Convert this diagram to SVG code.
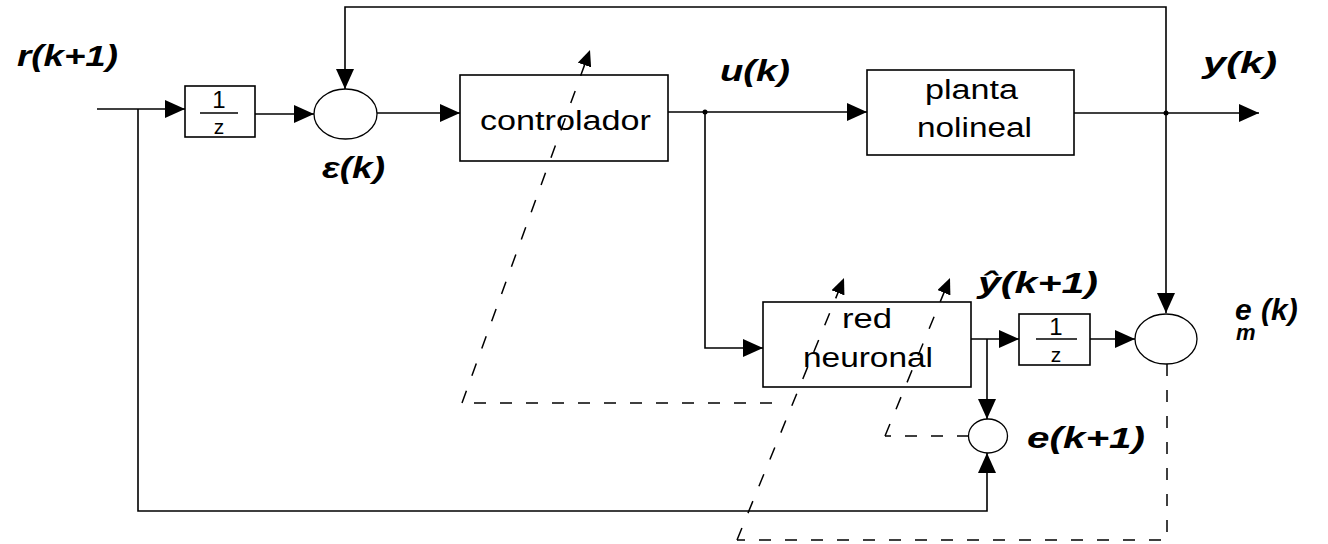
<svg xmlns="http://www.w3.org/2000/svg" width="1328" height="544" viewBox="0 0 1328 544">
<style>
.ln{fill:none;stroke:#000;stroke-width:1.6}
.box{fill:#fff;stroke:#000;stroke-width:1.6}
.sum{fill:#fff;stroke:#000;stroke-width:1.3}
.dh{fill:none;stroke:#000;stroke-width:1.5;stroke-dasharray:12 14}
.dd{fill:none;stroke:#000;stroke-width:1.5;stroke-dasharray:13 16}
.bt{font-family:"Liberation Sans",Arial,sans-serif;font-size:27px;fill:#000}
.fr{font-family:"Liberation Sans",Arial,sans-serif;font-size:24px;fill:#000;text-anchor:middle}
.fz{font-size:21px}
.lb{font-family:"Liberation Sans",Arial,sans-serif;font-size:30px;font-style:italic;font-weight:bold;fill:#000}
</style>
<defs>
<marker id="ah" markerUnits="userSpaceOnUse" markerWidth="20" markerHeight="18" refX="20" refY="9" orient="auto">
<path d="M0,0 L20,9 L0,18 z" fill="#000"/>
</marker>
<marker id="ahs" markerUnits="userSpaceOnUse" markerWidth="16" markerHeight="14" refX="16" refY="7" orient="auto">
<path d="M0,0 L16,7 L0,14 z" fill="#000"/>
</marker>
</defs>
<rect width="1328" height="544" fill="#fff"/>

<g id="delay1">
<rect class="box" x="185" y="86" width="70" height="51"/>
<line class="ln" x1="200" y1="113" x2="238" y2="113"/>
<text class="fr" x="219" y="108">1</text>
<text class="fr fz" x="219" y="134">z</text>
</g>

<g id="sum1">
<ellipse class="sum" cx="345.5" cy="114" rx="31.5" ry="25"/>
</g>

<g id="controller">
<rect class="box" x="460" y="75" width="208" height="86"/>
<text class="bt" x="480" y="130" textLength="171" lengthAdjust="spacingAndGlyphs">controlador</text>
</g>

<g id="plant">
<rect class="box" x="867" y="70" width="207" height="85"/>
<text class="bt" x="925" y="99" textLength="93" lengthAdjust="spacingAndGlyphs">planta</text>
<text class="bt" x="917" y="137" textLength="115" lengthAdjust="spacingAndGlyphs">nolineal</text>
</g>

<g id="neural">
<rect class="box" x="763" y="302" width="208" height="85"/>
<text class="bt" x="842" y="328" textLength="50" lengthAdjust="spacingAndGlyphs">red</text>
<text class="bt" x="803" y="367" textLength="130" lengthAdjust="spacingAndGlyphs">neuronal</text>
</g>

<g id="delay2">
<rect class="box" x="1019" y="314" width="71" height="51"/>
<line class="ln" x1="1036" y1="339" x2="1077" y2="339"/>
<text class="fr" x="1056" y="335">1</text>
<text class="fr fz" x="1056" y="362">z</text>
</g>

<g id="sum_em">
<ellipse class="sum" cx="1166" cy="339" rx="31" ry="25"/>
</g>

<g id="sum_e">
<ellipse class="sum" cx="988" cy="436" rx="19.5" ry="17"/>
</g>

<g id="connectors">
<path class="ln" d="M97,109 L185,109" marker-end="url(#ah)"/>
<path class="ln" d="M138,109 L138,511 L987,511 L987,453" marker-end="url(#ah)"/>
<path class="ln" d="M255,114 L314,114" marker-end="url(#ah)"/>
<path class="ln" d="M377,113 L460,113" marker-end="url(#ah)"/>
<path class="ln" d="M668,112 L867,112" marker-end="url(#ah)"/>
<path class="ln" d="M705,112 L705,348 L763,348" marker-end="url(#ah)"/>
<path class="ln" d="M1074,113 L1259,113" marker-end="url(#ah)"/>
<path class="ln" d="M1166,113 L1166,7 L345,7 L345,89" marker-end="url(#ah)"/>
<path class="ln" d="M1166,113 L1166,313" marker-end="url(#ah)"/>
<path class="ln" d="M971,339 L1019,339" marker-end="url(#ah)"/>
<path class="ln" d="M987,339 L987,419" marker-end="url(#ah)"/>
<path class="ln" d="M1090,339 L1135,339" marker-end="url(#ah)"/>
<circle cx="705" cy="112" r="2.5" fill="#000"/>
<circle cx="1166" cy="113" r="2.5" fill="#000"/>
<path class="dh" d="M1167,364 L1167,540 L737,540"/>
<path class="dd" d="M737,540 L844,278" marker-end="url(#ahs)"/>
<path class="dh" d="M969,436 L885,436"/>
<path class="dd" d="M885,436 L950,278" marker-end="url(#ahs)"/>
<path class="dh" d="M772,403 L462,403"/>
<path class="dd" d="M462,403 L590,50" marker-end="url(#ahs)"/>
</g>

<g id="labels">
<text class="lb" x="17" y="66" textLength="101" lengthAdjust="spacingAndGlyphs">r(k+1)</text>
<text class="lb" x="322" y="178" textLength="63" lengthAdjust="spacingAndGlyphs">ε(k)</text>
<text class="lb" x="720" y="81" textLength="70" lengthAdjust="spacingAndGlyphs">u(k)</text>
<text class="lb" x="1203" y="73" textLength="74" lengthAdjust="spacingAndGlyphs">y(k)</text>
<text class="lb" x="978" y="293" textLength="120" lengthAdjust="spacingAndGlyphs">ŷ(k+1)</text>
<text class="lb" x="1027" y="448" textLength="118" lengthAdjust="spacingAndGlyphs">e(k+1)</text>
<text class="lb" x="1235" y="320">e<tspan x="1236" y="340" style="font-size:22px">m</tspan><tspan x="1261" y="320">(k)</tspan></text>
</g>
</svg>
